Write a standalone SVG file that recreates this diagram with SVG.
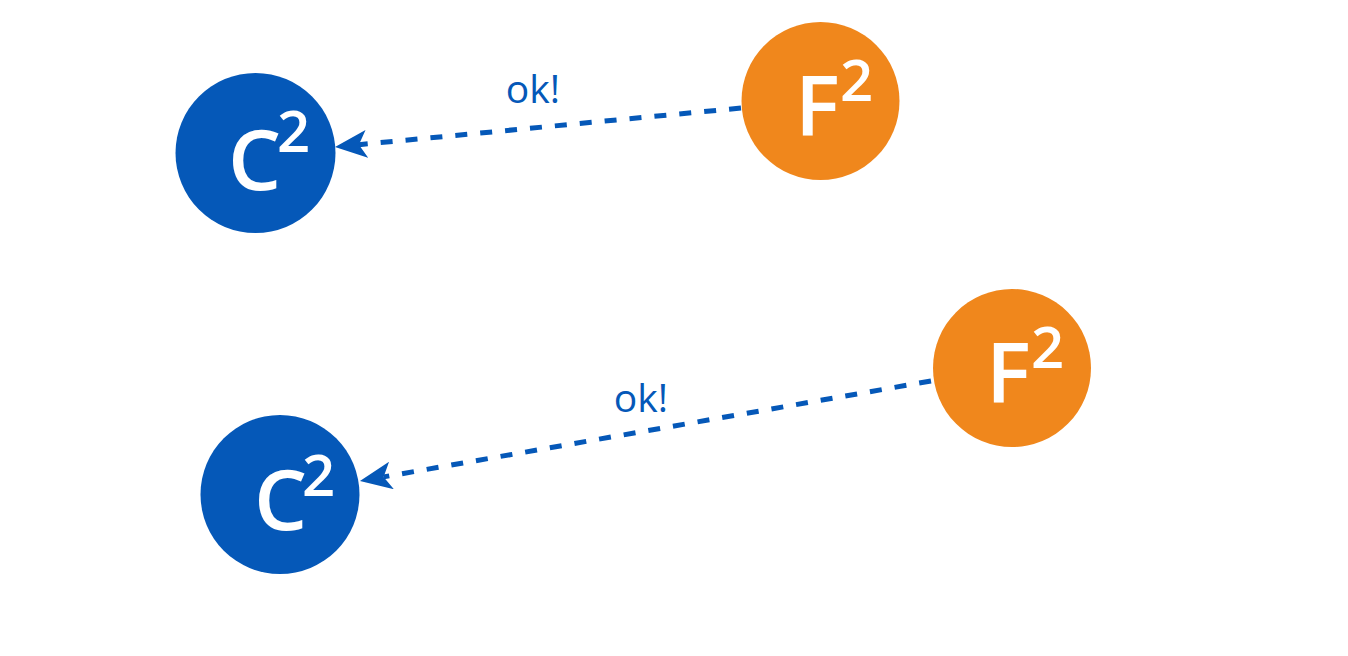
<svg xmlns="http://www.w3.org/2000/svg" width="1348" height="656" viewBox="0 0 1348 656">
<defs>
<style>
.c{fill:#0558B8}
.f{fill:#F0871C}
.big{font-family:"Open Sans","Liberation Sans",sans-serif;font-size:84px;font-weight:600;fill:#ffffff}
.sup{font-size:58px}
.edge{fill:none;stroke:#0558B8;stroke-width:5;stroke-dasharray:12 13}
.lbl{font-family:"Open Sans","Liberation Sans",sans-serif;font-size:39px;fill:#0558B8;text-anchor:middle}
</style>
<marker id="arr" viewBox="0 0 32 28" refX="8" refY="14" markerWidth="32" markerHeight="28" markerUnits="userSpaceOnUse" orient="auto">
<path d="M0,0 L32,14 L0,28 L8,14 Z" fill="#0558B8"/>
</marker>
</defs>
<g id="connectors">
<path class="edge" d="M741,108 L358.9,144.7" marker-end="url(#arr)"/>
<text class="lbl" x="533" y="103">ok!</text>
<path class="edge" d="M931,381 L383.6,476.9" marker-end="url(#arr)"/>
<text class="lbl" x="641" y="412">ok!</text>
</g>
<g id="c1">
<circle class="c" cx="255.5" cy="153" r="80"/>
<text class="big" x="228" y="190">C<tspan class="sup" x="277" y="152">2</tspan></text>
</g>
<g id="f1">
<circle class="f" cx="820.5" cy="101" r="79"/>
<text class="big" x="795" y="136">F<tspan class="sup" x="840" y="101">2</tspan></text>
</g>
<g id="f2">
<circle class="f" cx="1012" cy="368" r="79"/>
<text class="big" x="986" y="403">F<tspan class="sup" x="1031" y="368">2</tspan></text>
</g>
<g id="c2">
<circle class="c" cx="280" cy="494.5" r="79.5"/>
<text class="big" x="254" y="530">C<tspan class="sup" x="302" y="496">2</tspan></text>
</g>
</svg>
